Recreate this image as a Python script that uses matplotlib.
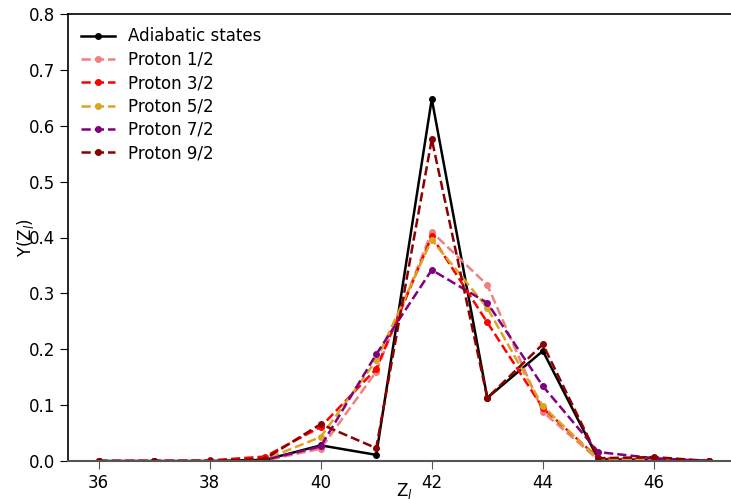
import matplotlib
matplotlib.use("Agg")
import matplotlib.pyplot as plt

Z = [36, 37, 38, 39, 40, 41, 42, 43, 44, 45, 46, 47]

adiabatic = [0.0, 0.0, 0.0, 0.002, 0.028, 0.011, 0.648, 0.113, 0.197, 0.003, 0.002, 0.0]
p1_2 = [0.0, 0.0, 0.0, 0.001, 0.022, 0.160, 0.410, 0.315, 0.088, 0.002, 0.001, 0.0]
p3_2 = [0.0, 0.0, 0.001, 0.008, 0.061, 0.165, 0.402, 0.248, 0.095, 0.005, 0.002, 0.0]
p5_2 = [0.0, 0.0, 0.0, 0.003, 0.043, 0.180, 0.396, 0.274, 0.098, 0.003, 0.001, 0.0]
p7_2 = [0.0, 0.0, 0.0, 0.002, 0.026, 0.191, 0.342, 0.283, 0.134, 0.016, 0.005, 0.0]
p9_2 = [0.0, 0.0, 0.0, 0.004, 0.066, 0.023, 0.576, 0.113, 0.209, 0.005, 0.007, 0.0]

labels = ["Proton 1/2", "Proton 3/2", "Proton 5/2", "Proton 7/2", "Proton 9/2"]
colors = ["lightcoral", "red", "goldenrod", "purple", "darkred"]
series = [p1_2, p3_2, p5_2, p7_2, p9_2]

fig = plt.figure(figsize=(7.31, 4.99), dpi=100)
ax = fig.add_axes([68 / 731, 38 / 499, 672 / 731, 447 / 499])

ax.plot(Z, adiabatic, "-o", color="black", lw=1.8, ms=4, label="Adiabatic states")
for y, c, lab in zip(series, colors, labels):
    ax.plot(Z, y, "--o", color=c, lw=1.8, ms=4, label=lab)

ax.set_ylim(0, 0.8)
ax.set_xlim(35.45, 47.55)
ax.set_xticks([36, 38, 40, 42, 44, 46])
ax.tick_params(labelsize=12, length=6)
ax.tick_params(axis="x", color="#555555")
ax.spines["bottom"].set_color("#555555")
ax.spines["bottom"].set_linewidth(1.5)
ax.spines["left"].set_linewidth(1.2)
ax.spines["top"].set_linewidth(1.2)

ax.set_xlabel("Z$_l$", fontsize=12)
ax.set_ylabel("Y(Z$_l$)", fontsize=12)
ax.xaxis.set_label_coords(0.5, -0.045)
ax.yaxis.set_label_coords(-0.048, 0.5)

ax.legend(loc="upper left", frameon=False, fontsize=12, handlelength=2.0,
          labelspacing=0.32, borderaxespad=0.4)

fig.savefig("out.png", dpi=100)
